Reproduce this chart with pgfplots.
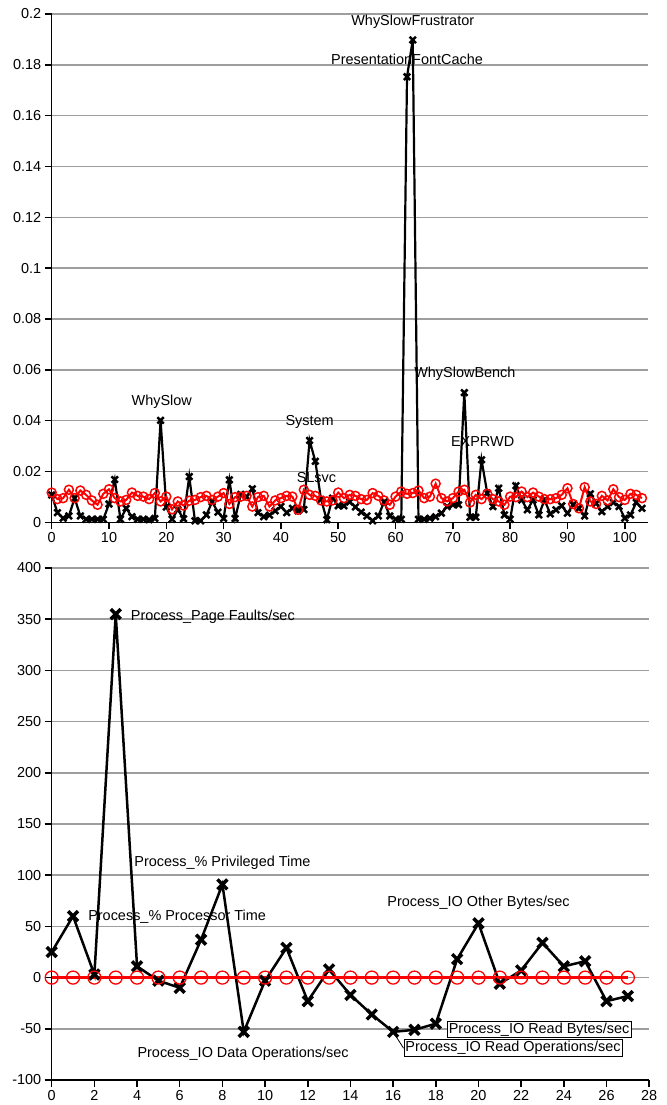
\documentclass[border=0pt]{standalone}
\usepackage{pgfplots}
\usepackage{pgfplotstable}
\pgfplotsset{compat=1.18}
\usepackage{fontspec}
\setmainfont{Liberation Sans}
\newcommand{\lab}{\fontsize{14.5}{16}\selectfont}

\pgfplotstableread{
x y
0 0.0108
1 0.0038
2 0.0016
3 0.0025
4 0.0095
5 0.0025
6 0.0012
7 0.0012
8 0.0012
9 0.0012
10 0.0072
11 0.0168
12 0.0012
13 0.0055
14 0.0022
15 0.0012
16 0.0012
17 0.0010
18 0.0015
19 0.0401
20 0.0060
21 0.0012
22 0.0050
23 0.0014
24 0.0180
25 0.0006
26 0.0006
27 0.0029
28 0.0080
29 0.0040
30 0.0015
31 0.0167
32 0.0015
33 0.0110
34 0.0101
35 0.0132
36 0.0038
37 0.0022
38 0.0028
39 0.0045
40 0.0062
41 0.0038
42 0.0055
43 0.0045
44 0.0050
45 0.0322
46 0.0240
47 0.0090
48 0.0010
49 0.0095
50 0.0065
51 0.0065
52 0.0080
53 0.0060
54 0.0040
55 0.0025
56 0.0006
57 0.0025
58 0.0080
59 0.0025
60 0.0012
61 0.0012
62 0.1753
63 0.1898
64 0.0012
65 0.0012
66 0.0016
67 0.0022
68 0.0036
69 0.0062
70 0.0069
71 0.0069
72 0.0510
73 0.0020
74 0.0020
75 0.0246
76 0.0115
77 0.0062
78 0.0134
79 0.0029
80 0.0012
81 0.0144
82 0.0088
83 0.0049
84 0.0088
85 0.0029
86 0.0088
87 0.0033
88 0.0049
89 0.0065
90 0.0036
91 0.0069
92 0.0055
93 0.0025
94 0.0112
95 0.0075
96 0.0042
97 0.0062
98 0.0078
99 0.0062
100 0.0016
101 0.0029
102 0.0078
103 0.0055
}\topk

\pgfplotstableread{
x y
0 0.0117
1 0.0091
2 0.0095
3 0.0128
4 0.0095
5 0.0125
6 0.0108
7 0.0086
8 0.0069
9 0.0112
10 0.0130
11 0.0095
12 0.0082
13 0.0088
14 0.0117
15 0.0104
16 0.0101
17 0.0091
18 0.0115
19 0.0082
20 0.0101
21 0.0051
22 0.0082
23 0.0066
24 0.0085
25 0.0088
26 0.0099
27 0.0104
28 0.0088
29 0.0101
30 0.0115
31 0.0072
32 0.0099
33 0.0101
34 0.0104
35 0.0062
36 0.0099
37 0.0104
38 0.0062
39 0.0086
40 0.0095
41 0.0104
42 0.0101
43 0.0049
44 0.0128
45 0.0108
46 0.0104
47 0.0086
48 0.0082
49 0.0086
50 0.0117
51 0.0095
52 0.0108
53 0.0104
54 0.0091
55 0.0088
56 0.0115
57 0.0104
58 0.0086
59 0.0069
60 0.0101
61 0.0121
62 0.0112
63 0.0115
64 0.0125
65 0.0095
66 0.0101
67 0.0152
68 0.0095
69 0.0082
70 0.0095
71 0.0121
72 0.0128
73 0.0078
74 0.0108
75 0.0091
76 0.0112
77 0.0091
78 0.0082
79 0.0069
80 0.0101
81 0.0099
82 0.0121
83 0.0099
84 0.0117
85 0.0101
86 0.0091
87 0.0091
88 0.0095
89 0.0108
90 0.0134
91 0.0072
92 0.0055
93 0.0138
94 0.0082
95 0.0072
96 0.0104
97 0.0086
98 0.0130
99 0.0099
100 0.0088
101 0.0112
102 0.0108
103 0.0095
}\topr

\pgfplotstableread{
x y
0 25
1 60
2 3
3 355
4 11
5 -3
6 -10
7 37
8 91
9 -53
10 -3
11 29
12 -23
13 8
14 -17
15 -36
16 -53
17 -51
18 -45
19 18
20 53
21 -6
22 7
23 34
24 11
25 16
26 -23
27 -18
}\botk

\pgfplotstableread{
x y
0 0
1 0
2 0
3 0
4 0
5 0
6 0
7 0
8 0
9 0
10 0
11 0
12 0
13 0
14 0
15 0
16 0
17 0
18 0
19 0
20 0
21 0
22 0
23 0
24 0
25 0
26 0
27 0
}\botr

\pgfplotsset{mystyle/.style={
  scale only axis,
  axis lines=left,
  axis line style={line width=1.5bp, -},
  ymajorgrids,
  grid style={line width=1.5bp, color=black!38},
  tick style={line width=1.5bp, black},
  tick align=outside,
  major tick length=7bp,
  ticklabel style={font=\lab},
  /pgf/number format/assume math mode=true,
  clip=false,
}}

\begin{document}
\begin{tikzpicture}
\useasboundingbox (-51.7bp,-25bp) rectangle (615.3bp,1080bp);

\begin{axis}[mystyle, at={(0bp,557.7bp)}, anchor=south west,
  width=596bp, height=508.3bp,
  xmin=0, xmax=104, ymin=0, ymax=0.2,
  xtick={0,10,20,30,40,50,60,70,80,90,100},
  ytick={0,0.02,0.04,0.06,0.08,0.1,0.12,0.14,0.16,0.18,0.2},
  yticklabel style={/pgf/number format/fixed, /pgf/number format/precision=2},
  scaled y ticks=false]
\addplot[black, line width=2.2bp, mark=x, mark size=4.5bp, mark options={line width=2.5bp}] table[x=x,y=y]{\topk};
\addplot[red, line width=2bp, mark=o, mark size=4.5bp, mark options={line width=1.5bp}] table[x=x,y=y]{\topr};
\node[font=\lab] at (axis cs:63,0.197) {WhySlowFrustrator};
\node[font=\lab] at (axis cs:62,0.182) {PresentationFontCache};
\node[font=\lab] at (axis cs:19.2,0.0474) {WhySlow};
\node[font=\lab] at (axis cs:45,0.0393) {System};
\node[font=\lab] at (axis cs:46.2,0.0176) {SLsvc};
\node[font=\lab] at (axis cs:72.1,0.0583) {WhySlowBench};
\node[font=\lab] at (axis cs:75.2,0.0316) {EXPRWD};
\end{axis}

\begin{axis}[mystyle, at={(0bp,0bp)}, anchor=south west,
  width=597.5bp, height=512bp,
  xmin=0, xmax=28, ymin=-100, ymax=400,
  xtick={0,2,4,6,8,10,12,14,16,18,20,22,24,26,28},
  ytick={-100,-50,0,50,100,150,200,250,300,350,400}]
\addplot[black, line width=2.5bp, mark=x, mark size=7bp, mark options={line width=3.5bp}] table[x=x,y=y]{\botk};
\addplot[red, line width=3bp, mark=o, mark size=6.5bp, mark options={line width=1.3bp}] table[x=x,y=y]{\botr};
\node[font=\lab, anchor=west] at (axis cs:3.55,352) {Process\_Page Faults/sec};
\node[font=\lab] at (axis cs:8.0,111.7) {Process\_\% Privileged Time};
\node[font=\lab, anchor=west] at (axis cs:1.55,59) {Process\_\% Processor Time};
\node[font=\lab] at (axis cs:8.97,-74) {Process\_IO Data Operations/sec};
\node[font=\lab] at (axis cs:20,72.6) {Process\_IO Other Bytes/sec};
\draw[line width=0.8bp] (axis cs:16,-53) -- (axis cs:16.49,-69);
\node[font=\lab, anchor=west, draw, line width=0.8bp, fill=white, inner sep=1.5bp] at (axis cs:18.52,-50.8) {Process\_IO Read Bytes/sec};
\node[font=\lab, anchor=west, draw, line width=0.8bp, fill=white, inner sep=1.5bp] at (axis cs:16.49,-68.7) {Process\_IO Read Operations/sec};
\end{axis}
\end{tikzpicture}
\end{document}
